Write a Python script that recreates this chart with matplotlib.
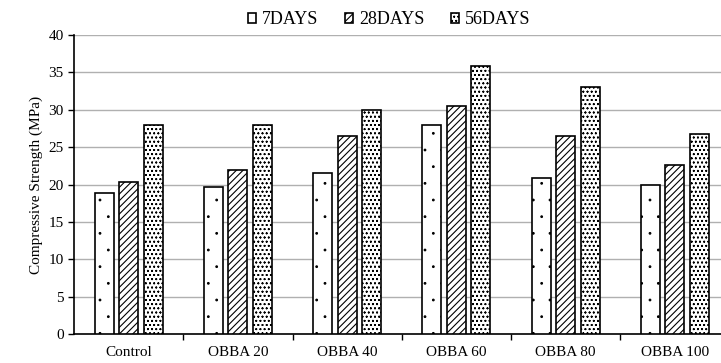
import numpy as np
import matplotlib.pyplot as plt
import matplotlib.hatch as mhatch

plt.rcParams['font.family'] = ['Liberation Serif', 'DejaVu Serif']
plt.rcParams['hatch.linewidth'] = 0.8
# smaller dots for both dotted fills
mhatch.SmallFilledCircles.size = 0.05
mhatch.SmallCircles.size = 0.1

# data
mixes = ["Control", "OBBA 20", "OBBA 40", "OBBA 60", "OBBA 80", "OBBA 100"]
days_7 = [18.9, 19.6, 21.5, 27.9, 20.9, 20.0]
days_28 = [20.3, 21.9, 26.5, 30.5, 26.5, 22.6]
days_56 = [27.9, 27.9, 29.9, 35.8, 33.1, 26.7]
series_names = ["7DAYS", "28DAYS", "56DAYS"]

fig = plt.figure(figsize=(7.21, 3.63), dpi=100)
# axes runs slightly past the right edge, as in the reference crop
ax = fig.add_axes([74 / 721, 29 / 363, 655.5 / 721, 299 / 363])

x = np.arange(len(mixes))
width = 0.175
step = 0.224
hatches = ['.', '/////', 'oooo']
for i, (vals, name) in enumerate(zip([days_7, days_28, days_56], series_names)):
    ax.bar(x + (i - 1) * step, vals, width, label=name, color='white',
           edgecolor='black', linewidth=1.2, hatch=hatches[i], zorder=3)

ax.set_xlim(-0.5, len(mixes) - 0.5)
ax.set_ylim(0, 40)
ax.set_yticks(np.arange(0, 41, 5))
ax.yaxis.grid(True, color='#b0b0b0', linewidth=1.0, zorder=0)
ax.set_xticks(x)
ax.set_xticklabels(mixes, fontsize=11)
ax.tick_params(axis='x', length=0, pad=9)
ax.set_xticks(np.arange(0.5, len(mixes) - 0.5, 1), minor=True)
ax.tick_params(axis='x', which='minor', length=4, width=1, direction='out')
ax.tick_params(axis='y', labelsize=11, length=4, width=1, direction='out')
ax.set_ylabel("Compressive Strength (MPa)", fontsize=11)

for side in ['top', 'right']:
    ax.spines[side].set_visible(False)
ax.spines['left'].set_linewidth(1.2)
ax.spines['bottom'].set_linewidth(1.2)

fig.legend(loc='center', bbox_to_anchor=(0.540, 0.945), ncol=3, frameon=False,
           fontsize=13, handlelength=0.45, handleheight=0.45, handletextpad=0.3,
           columnspacing=1.5)

fig.savefig("out.png", dpi=100)
